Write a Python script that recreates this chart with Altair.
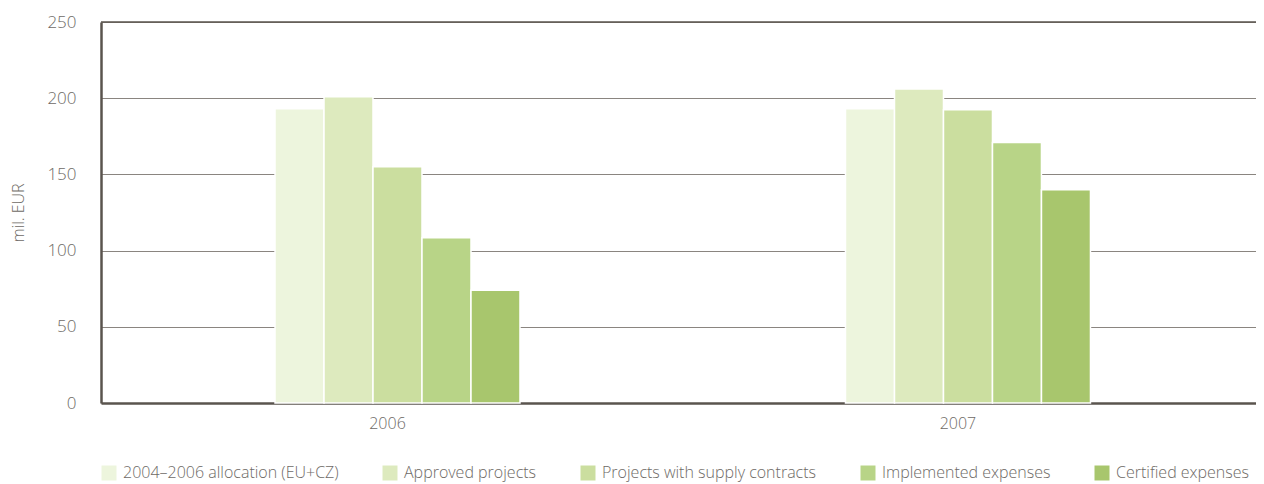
import altair as alt
import pandas as pd

years = ["2006", "2007"]
series = [
    "2004–2006 allocation (EU+CZ)",
    "Approved projects",
    "Projects with supply contracts",
    "Implemented expenses",
    "Certified expenses",
]
values_2006 = [193, 201, 155, 108.5, 74]
values_2007 = [193, 206, 192.5, 171, 140]
colors = ["#edf5dd", "#ddeabe", "#cbde9f", "#b8d487", "#a8c66d"]

rows = []
for y, vals in zip(years, [values_2006, values_2007]):
    for i, (s, v) in enumerate(zip(series, vals)):
        rows.append({"year": y, "series": s, "order": i, "value": v})
df = pd.DataFrame(rows)

FONT = "Open Sans"
TXT = "#6e6a66"

bars = alt.Chart(df).mark_bar(stroke="white", strokeWidth=1.5).encode(
    x=alt.X("year:N", sort=years,
            scale=alt.Scale(paddingInner=0.5706, paddingOuter=0.2976, align=0.5125),
            axis=alt.Axis(title=None, labelAngle=0, ticks=False, domain=True,
                          domainColor="#5a544e", domainWidth=2.5,
                          labelFont=FONT, labelFontSize=16, labelFontWeight=300,
                          labelColor=TXT, labelOffset=-10,
                          labelPadding=12, grid=False)),
    xOffset=alt.XOffset("series:N", sort=series),
    y=alt.Y("value:Q", scale=alt.Scale(domain=[0, 250]),
            axis=alt.Axis(title="mil. EUR", values=[0, 50, 100, 150, 200, 250],
                          ticks=False, domainColor="#5a544e", domainWidth=2.5,
                          labelFont=FONT, labelFontSize=17, labelFontWeight=300,
                          labelColor=TXT,
                          labelPadding=25, titleFont=FONT, titleFontSize=16,
                          titleFontWeight=300, titleColor=TXT, titlePadding=20,
                          gridColor="#8a8580", gridWidth=1.2)),
    color=alt.Color("series:N", sort=series,
                    scale=alt.Scale(domain=series, range=colors),
                    legend=alt.Legend(title=None, orient="none", direction="horizontal",
                                      legendX=0, legendY=443, symbolType="square",
                                      symbolSize=225, symbolStrokeWidth=0,
                                      labelFont=FONT, labelFontSize=16,
                                      labelFontWeight=300, labelColor=TXT,
                                      columnPadding=43, labelOffset=6,
                                      labelLimit=400)),
)

top = alt.Chart(pd.DataFrame({"v": [250]})).mark_rule(color="#5a544e", strokeWidth=1.5).encode(
    y=alt.Y("v:Q", scale=alt.Scale(domain=[0, 250]))
)

chart = alt.layer(bars, top).properties(
    width=1155, height=381,
    autosize=alt.AutoSizeParams(type="none"),
    padding={"left": 93, "top": 14, "right": 0, "bottom": 80},
).configure_view(stroke=None)

chart.save("out.html", embed_options={"renderer": "svg", "actions": False})
